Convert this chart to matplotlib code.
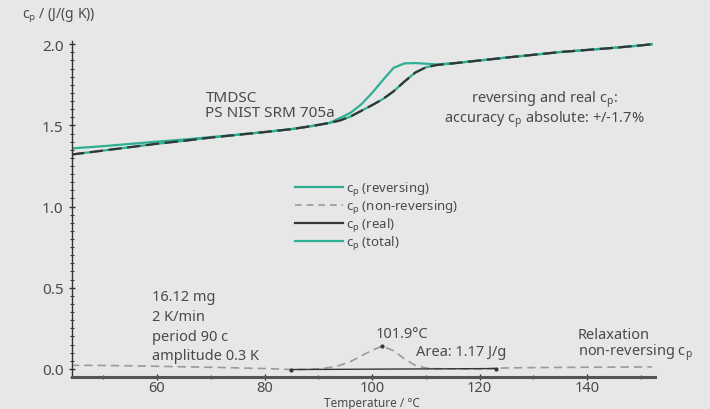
import numpy as np
import matplotlib
matplotlib.use('Agg')
import matplotlib.pyplot as plt
from matplotlib.ticker import MultipleLocator
from matplotlib.lines import Line2D

plt.rcParams['font.family'] = ['Noto Sans', 'DejaVu Sans']
plt.rcParams['mathtext.default'] = 'regular'

# temperature grid, degC
temp = [44, 50, 55, 60, 65, 70, 75, 80, 85, 88, 90, 92, 94, 96, 98, 100, 101.9,
        104, 106, 108, 110, 112, 115, 120, 125, 130, 135, 140, 145, 150, 152]
# cp total (teal, with step + peak)
cp_total = [1.358, 1.372, 1.386, 1.400, 1.413, 1.428, 1.443, 1.459, 1.477, 1.492, 1.503, 1.515, 1.545,
            1.578, 1.63, 1.70, 1.775, 1.855, 1.882, 1.884, 1.880, 1.876, 1.883, 1.900, 1.918,
            1.935, 1.952, 1.965, 1.978, 1.993, 2.0]
# cp reversing / real (lower S curve)
cp_rev = [1.320, 1.345, 1.366, 1.387, 1.405, 1.425, 1.442, 1.459, 1.477, 1.492, 1.503, 1.515, 1.530,
          1.555, 1.59, 1.625, 1.66, 1.71, 1.77, 1.825, 1.858, 1.872, 1.882, 1.900, 1.918,
          1.935, 1.952, 1.965, 1.978, 1.993, 2.0]
# cp non-reversing
cp_nonrev = [0.022, 0.021, 0.019, 0.016, 0.013, 0.010, 0.006, 0.002, -0.004, -0.003, 0.0, 0.008, 0.022,
             0.045, 0.080, 0.115, 0.140, 0.112, 0.062, 0.022, 0.006, 0.001, 0.0, 0.0, 0.006,
             0.008, 0.009, 0.010, 0.011, 0.012, 0.012]
# integration limits of the relaxation peak
peak_lims = [85, 123]
peak_base = [-0.004, 0.002]
peak_T = 101.9
peak_val = 0.140

bg = '#e7e7e7'
teal = '#2eae92'
dark = '#353535'
grey = '#9a9a9a'
txt = '#4a4a4a'

fig = plt.figure(figsize=(7.1, 4.1), dpi=100, facecolor=bg)
ax = fig.add_axes([72/710, 32/410, 583/710, 336/410], facecolor=bg)

ax.plot(temp, cp_nonrev, color=grey, lw=1.2, dashes=(5, 3))
ax.plot(peak_lims, peak_base, color=dark, lw=1.0, marker='.', ms=4)
ax.plot([peak_T], [peak_val], color=dark, marker='.', ms=4)
ax.plot(temp, cp_rev, color=teal, lw=1.6)
ax.plot(temp, cp_total, color=teal, lw=1.6)
ax.plot(temp, cp_rev, color=dark, lw=1.6, dashes=(6, 2.5))

ax.set_xlim(44.2, 152.6)
ax.set_ylim(-0.05, 2.02)
ax.xaxis.set_major_locator(MultipleLocator(20))
ax.xaxis.set_minor_locator(MultipleLocator(10))
ax.yaxis.set_major_locator(MultipleLocator(0.5))
ax.yaxis.set_minor_locator(MultipleLocator(0.05))
ax.yaxis.set_major_formatter(matplotlib.ticker.FormatStrFormatter('%.1f'))
for s in ['top', 'right']:
    ax.spines[s].set_visible(False)
ax.spines['left'].set_color(dark)
ax.spines['left'].set_linewidth(1.0)
ax.spines['bottom'].set_color('#555555')
ax.spines['bottom'].set_linewidth(2.2)
ax.tick_params(axis='both', which='major', labelsize=11, labelcolor=txt, color=dark,
               direction='inout', length=5, width=1)
ax.tick_params(axis='both', which='minor', color=dark, direction='inout', length=3, width=0.8)
ax.tick_params(axis='x', pad=0, labelsize=10.5)

fig.text(22/710, 1 - 15/410, 'c$_p$ / (J/(g K))', fontsize=10, color=txt, va='center')
fig.text(372/710, 0.0, 'Temperature / °C', fontsize=8.5, color=txt, ha='center', va='bottom')

ax.text(69, 1.72, 'TMDSC\nPS NIST SRM 705a', fontsize=11, color=txt, va='top', linespacing=1.05)
ax.text(132.0, 1.73, 'reversing and real c$_p$:\naccuracy c$_p$ absolute: +/-1.7%', fontsize=10.5,
        color=txt, ha='center', va='top', linespacing=0.95)
ax.text(59.1, 0.49, '16.12 mg\n2 K/min\nperiod 90 c\namplitude 0.3 K', fontsize=10.5, color=txt,
        va='top', linespacing=1.42)
ax.text(105.6, 0.22, '101.9°C', fontsize=10.5, color=txt, ha='center', va='center')
ax.text(108.2, 0.105, 'Area: 1.17 J/g', fontsize=10.5, color=txt, va='center')
ax.text(138.2, 0.26, 'Relaxation\nnon-reversing c$_p$', fontsize=10.5, color=txt, va='top',
        linespacing=1.0)

handles = [Line2D([], [], color=teal, lw=1.6),
           Line2D([], [], color=grey, lw=1.2, dashes=(4, 3)),
           Line2D([], [], color=dark, lw=1.6),
           Line2D([], [], color=teal, lw=1.6)]
labels = ['c$_p$ (reversing)', 'c$_p$ (non-reversing)', 'c$_p$ (real)', 'c$_p$ (total)']
leg = ax.legend(handles, labels, loc='upper left', bbox_to_anchor=(288/710, 1 - 174/410),
                bbox_transform=fig.transFigure, frameon=False, fontsize=9.5, handlelength=3.7,
                handletextpad=0.2, labelspacing=0.0, borderpad=0)
for t in leg.get_texts():
    t.set_color(txt)

fig.savefig('out.png', dpi=100, facecolor=bg)
